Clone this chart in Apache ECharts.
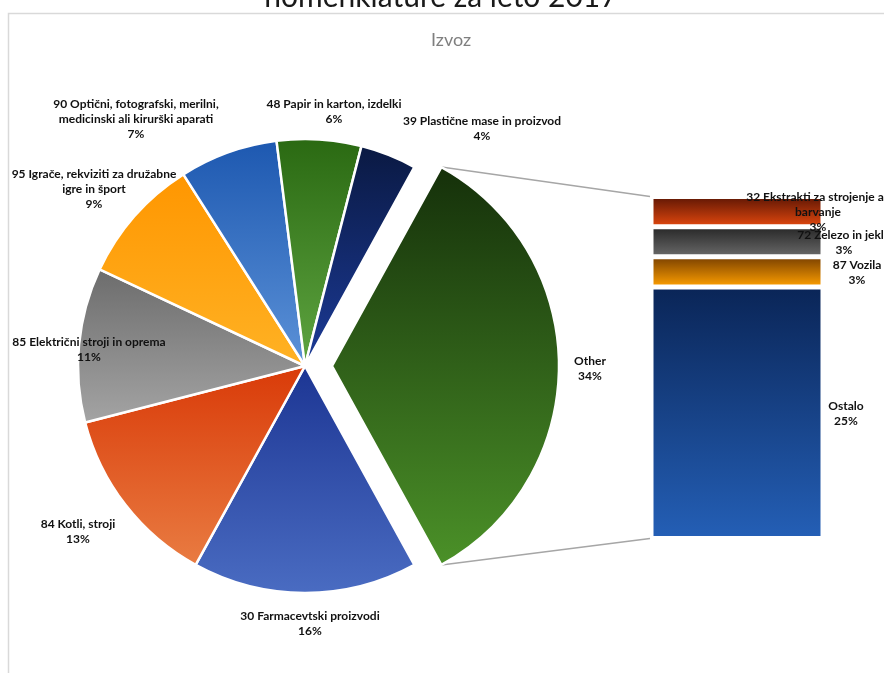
<!DOCTYPE html>
<html>
<head>
<meta charset="utf-8">
<script src="https://cdn.jsdelivr.net/npm/echarts@6/dist/echarts.min.js"></script>
<style>
  html, body { margin: 0; padding: 0; background: #fff; }
  #chart { width: 884px; height: 673px; }
</style>
</head>
<body>
<div id="chart"></div>
<script>
// Main pie: product groups (share of exports, %)
const pieNames = [
  '30 Farmacevtski proizvodi',
  '84 Kotli, stroji',
  '85 Električni stroji in oprema',
  '95 Igrače, rekviziti za družabne\nigre in šport',
  '90 Optični, fotografski, merilni,\nmedicinski ali kirurški aparati',
  '48 Papir in karton, izdelki',
  '39 Plastične mase in proizvod'
];
const pieValues = [16, 13, 11, 9, 7, 6, 4];

// Breakdown of the "Other" slice, stacked from the bottom up
const barNames = ['Ostalo', '87 Vozila', '72 Železo in jeklo', '32 Ekstrakti za strojenje ali\nbarvanje'];
const barValues = [25, 3, 3, 3];

const otherName = 'Other';
const titleText = 'nomenklature za leto 2017';
const subtitleText = 'Izvoz';

// ---- styling ----
const FONT = 'Lato, "Open Sans", sans-serif';
const pieColors = [
  ['#15300a', '#4b9128'],   // Other
  ['#1c3593', '#4a6cc2'],   // 30
  ['#d93a08', '#e97c42'],   // 84
  ['#6c6c6c', '#a4a4a4'],   // 85
  ['#ff9600', '#ffb224'],   // 95
  ['#1d58b0', '#5c92d8'],   // 90
  ['#2a6912', '#5fa541'],   // 48
  ['#0a1942', '#1c3b98']    // 39
];
const barColors = [
  ['#0a2557', '#245fb6'],   // Ostalo
  ['#7a4000', '#ffa000'],   // 87
  ['#262626', '#6a6a6a'],   // 72
  ['#5e1604', '#e2480e']    // 32
];
// label block centres
const pieLabelPos = [
  [590, 369], [310, 624], [78, 532], [89, 350], [94, 189], [136, 119], [334, 112], [482, 129]
];
const barLabelPos = [[846, 414], [857, 273], [844, 243], [818, 212]];

const CX = 305, CY = 366, R = 227, EXPLODE = 27;
const GRID = { left: 651, top: 196.5, width: 172, height: 342 };
const NONE = 'rgba(0,0,0,0)';

function grad(pair) {
  return new echarts.graphic.LinearGradient(0, 0, 0, 1, [
    { offset: 0, color: pair[0] },
    { offset: 1, color: pair[1] }
  ]);
}

const otherValue = barValues.reduce((a, b) => a + b, 0);
const allPieValues = [otherValue].concat(pieValues);
const allPieNames = [otherName].concat(pieNames);
const total = allPieValues.reduce((a, b) => a + b, 0);

// The "Other" slice is centred on 3 o'clock, facing the bar
const otherSweep = otherValue / total * 360;
const startCw = 90 - otherSweep / 2;          // clockwise from 12 o'clock
const startAngle = 90 - startCw;              // ECharts convention

const labelStyle = {
  fontFamily: FONT, fontSize: 12, fontWeight: 'bold', color: '#111', lineHeight: 15, align: 'center'
};

// Two pies share the same angles: one draws the main slices, the other
// draws only the "Other" slice, pulled out towards the bar.
function pieItems(visible) {
  return allPieValues.map((v, i) => {
    const on = visible(i);
    return {
      name: allPieNames[i],
      value: v,
      itemStyle: on ? { color: grad(pieColors[i]) } : { color: NONE, borderColor: NONE, borderWidth: 0 },
      label: { show: on }
    };
  });
}

function pieSeries(centerX, visible) {
  return {
    type: 'pie',
    center: [centerX, CY],
    radius: [0, R],
    startAngle: startAngle,
    clockwise: true,
    avoidLabelOverlap: false,
    data: pieItems(visible),
    itemStyle: { borderColor: '#fff', borderWidth: 2.5 },
    label: Object.assign({ show: true, position: 'outside', formatter: p => p.name + '\n' + Math.round(p.value / total * 100) + '%' }, labelStyle),
    labelLine: { show: false },
    labelLayout: p => ({ x: pieLabelPos[p.dataIndex][0], y: pieLabelPos[p.dataIndex][1], align: 'center', verticalAlign: 'middle' }),
    emphasis: { disabled: true },
    silent: true
  };
}

const barSeries = barValues.map((v, i) => ({
  type: 'bar',
  name: barNames[i],
  stack: 'other',
  data: [v],
  barWidth: '100%',
  itemStyle: { color: grad(barColors[i]), borderColor: '#fff', borderWidth: 2.5 },
  label: Object.assign({ show: true, position: 'right', formatter: p => p.seriesName + '\n' + Math.round(p.value / total * 100) + '%' }, labelStyle),
  labelLayout: () => ({ x: barLabelPos[i][0], y: barLabelPos[i][1], align: 'center', verticalAlign: 'middle' }),
  emphasis: { disabled: true },
  silent: true,
  z: 3
}));

// connector lines from the pulled-out slice edges to the bar corners
function slicePoint(angleCw) {
  const a = angleCw * Math.PI / 180;
  return [CX + R * Math.sin(a) + EXPLODE, CY - R * Math.cos(a)];
}
const topTip = slicePoint(startCw);
const botTip = slicePoint(startCw + otherSweep);

const chart = echarts.init(document.getElementById('chart'), null, { renderer: 'canvas' });
chart.setOption({
  animation: false,
  backgroundColor: '#fff',
  grid: { left: GRID.left, top: GRID.top, width: GRID.width, height: GRID.height, containLabel: false },
  xAxis: { type: 'category', data: [''], show: false },
  yAxis: { type: 'value', min: 0, max: otherValue, show: false },
  graphic: [
    { type: 'rect', shape: { x: 8.5, y: 13.5, width: 1000, height: 1000 }, style: { fill: 'none', stroke: '#d9d9d9', lineWidth: 1.5 }, silent: true },
    { type: 'text', x: 441, y: -3, style: { text: titleText, font: '30px ' + FONT, fill: '#1a1a1a', align: 'center', verticalAlign: 'middle' }, silent: true },
    { type: 'text', x: 451, y: 40, style: { text: subtitleText, font: '18px ' + FONT, fill: '#7f7f7f', align: 'center', verticalAlign: 'middle' }, silent: true },
    { type: 'line', shape: { x1: topTip[0], y1: topTip[1], x2: GRID.left - 1, y2: GRID.top }, style: { stroke: '#a6a6a6', lineWidth: 1.5 }, silent: true },
    { type: 'line', shape: { x1: botTip[0], y1: botTip[1], x2: GRID.left - 1, y2: GRID.top + GRID.height }, style: { stroke: '#a6a6a6', lineWidth: 1.5 }, silent: true }
  ],
  series: [
    pieSeries(CX, i => i !== 0),
    pieSeries(CX + EXPLODE, i => i === 0)
  ].concat(barSeries)
});
</script>
</body>
</html>
